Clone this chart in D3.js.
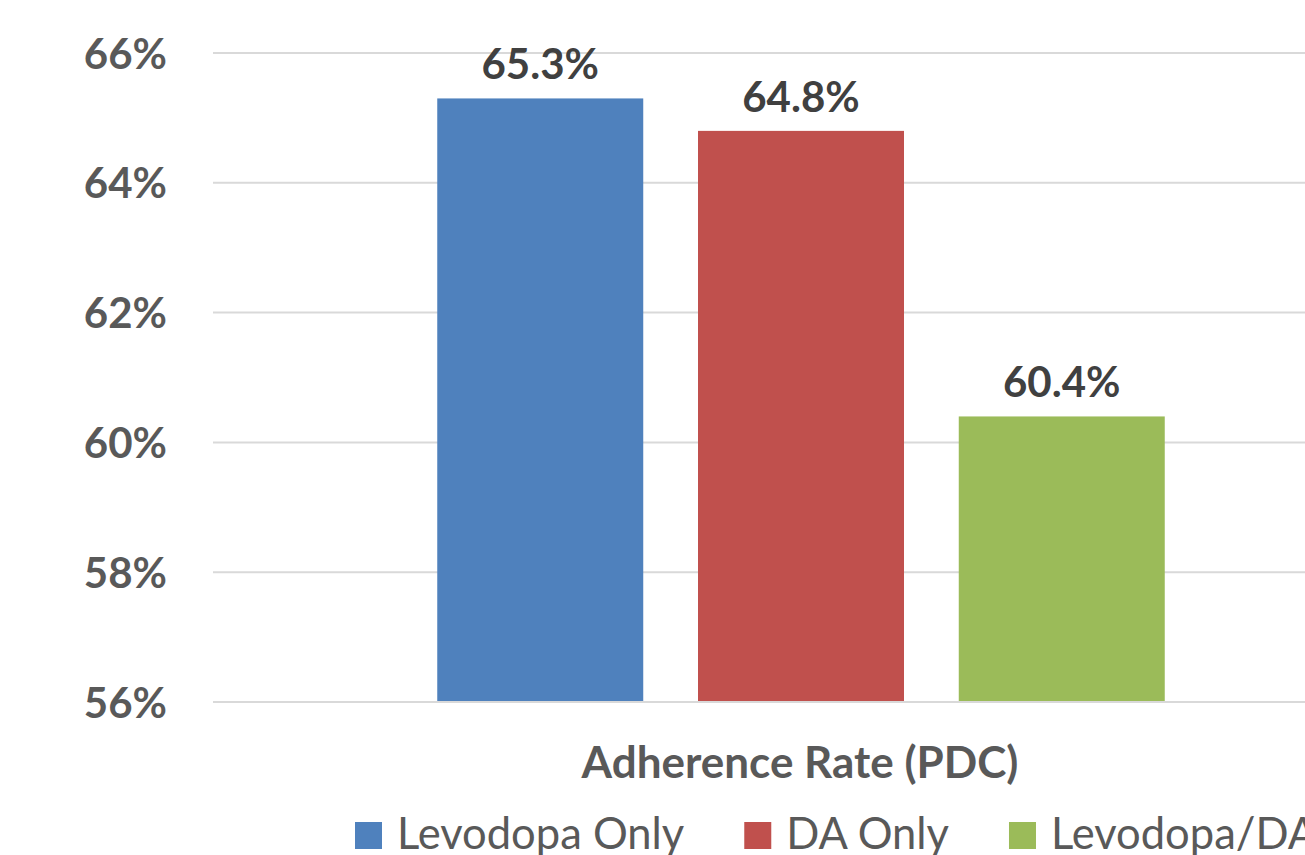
<!DOCTYPE html>
<html>
<head>
<meta charset="utf-8">
<script src="https://cdn.jsdelivr.net/npm/d3@7"></script>
<style>
  body { margin: 0; background: #fff; overflow: hidden; }
  svg { display: block; font-family: Lato, "Open Sans", sans-serif; }
</style>
</head>
<body>
<svg id="chart" width="1305" height="855"></svg>
<script>
// Chart data
const categories = ["Adherence Rate (PDC)"];
const seriesNames = ["Levodopa Only", "DA Only", "Levodopa/DA"];
const seriesValues = [65.3, 64.8, 60.4];
const seriesColors = ["#4F81BD", "#C0504D", "#9BBB59"];
const yTicks = [56, 58, 60, 62, 64, 66];

const svg = d3.select("#chart");

// Plot area (extends past the right edge of the canvas)
const plot = { left: 213, right: 1389, top: 53, bottom: 702 };

const y = d3.scaleLinear().domain([56, 66]).range([plot.bottom, plot.top]);
const x0 = d3.scaleBand().domain(categories).range([plot.left, plot.right]).padding(0);
const x1 = d3.scaleBand().domain(seriesNames).range([0, x0.bandwidth()])
  .paddingInner(0.21).paddingOuter(0.86);

// Horizontal gridlines
svg.append("g")
  .selectAll("line")
  .data(yTicks)
  .join("line")
  .attr("x1", plot.left)
  .attr("x2", plot.right)
  .attr("y1", d => y(d))
  .attr("y2", d => y(d))
  .attr("stroke", "#D9D9D9")
  .attr("stroke-width", 2);

// Y axis tick labels
const yAxis = d3.axisLeft(y).tickValues(yTicks).tickFormat(d => d + "%").tickSize(0).tickPadding(0);
const yg = svg.append("g")
  .attr("transform", `translate(167,0)`)
  .call(yAxis);
yg.select(".domain").remove();
yg.selectAll("text")
  .attr("fill", "#595959")
  .attr("font-size", 42)
  .attr("font-weight", "bold")
  .attr("font-family", "Lato, 'Open Sans', sans-serif")
  .attr("dy", "0.36em");

// Bars
const barData = seriesNames.map((name, i) => ({ name, value: seriesValues[i], color: seriesColors[i], cat: categories[0] }));

const bars = svg.append("g");
bars.selectAll("rect")
  .data(barData)
  .join("rect")
  .attr("x", d => x0(d.cat) + x1(d.name))
  .attr("width", x1.bandwidth())
  .attr("y", d => y(d.value))
  .attr("height", d => y(56) - y(d.value) - 1)
  .attr("fill", d => d.color);

// Value labels
bars.selectAll("text")
  .data(barData)
  .join("text")
  .attr("x", d => x0(d.cat) + x1(d.name) + x1.bandwidth() / 2)
  .attr("y", d => y(d.value) - 19)
  .attr("text-anchor", "middle")
  .attr("fill", "#404040")
  .attr("font-size", 42)
  .attr("font-weight", "bold")
  .text(d => d.value.toFixed(1) + "%");

// Category axis label
svg.append("g")
  .selectAll("text")
  .data(categories)
  .join("text")
  .attr("x", d => x0(d) + x0.bandwidth() / 2 - 1)
  .attr("y", 778)
  .attr("text-anchor", "middle")
  .attr("fill", "#595959")
  .attr("font-size", 44)
  .attr("font-weight", "bold")
  .text(d => d);

// Legend
const legend = svg.append("g").attr("transform", "translate(355,822)");
let lx = 0;
seriesNames.forEach((name, i) => {
  const g = legend.append("g").attr("transform", `translate(${lx},0)`);
  g.append("rect")
    .attr("width", 27)
    .attr("height", 27)
    .attr("fill", seriesColors[i]);
  const t = g.append("text")
    .attr("x", 42)
    .attr("y", 27)
    .attr("fill", "#595959")
    .attr("font-size", 43.5)
    .text(name);
  lx += 42 + t.node().getComputedTextLength() + 60;
});
</script>
</body>
</html>
